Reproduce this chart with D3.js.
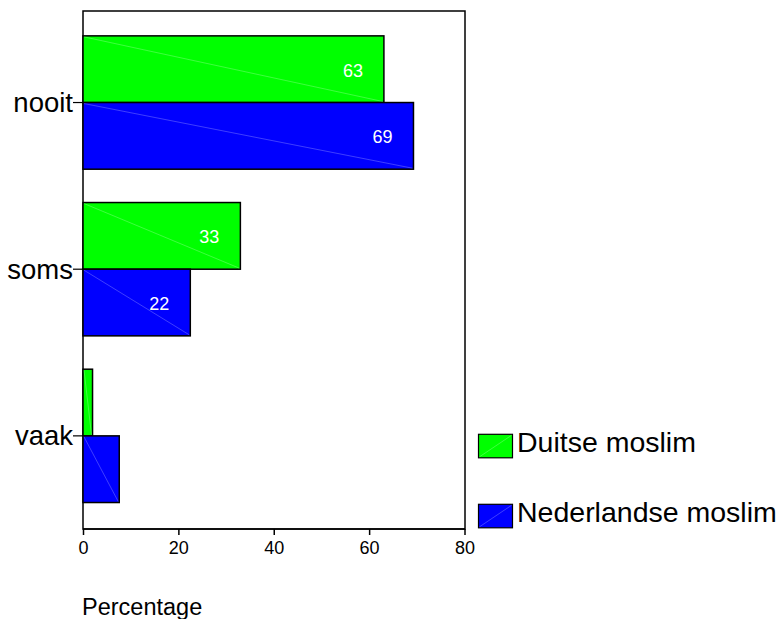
<!DOCTYPE html>
<html><head><meta charset="utf-8">
<script src="https://cdn.jsdelivr.net/npm/d3@7"></script>
<style>body{margin:0;background:#fff;} text{font-family:"Liberation Sans",Arial,sans-serif;}</style>
</head><body>
<svg id="c" width="782" height="619"></svg>
<script>
const categories = ["nooit", "soms", "vaak"];
const seriesNames = ["Duitse moslim", "Nederlandse moslim"];
const duitse = [63.1, 33.0, 2.0];
const nederlandse = [69.3, 22.5, 7.6];
const labelsDuitse = ["63", "33", ""];
const labelsNederlandse = ["69", "22", ""];
const xTicks = [0, 20, 40, 60, 80];
const colors = ["#00ff00", "#0000ff"];

(function () {
const svg = d3.select("#c");
const pLeft = 83, pRight = 465, pTop = 11, pBottom = 529;
const x = d3.scaleLinear().domain([0, 80]).range([pLeft, pRight - 0.5]);
const y = d3.scaleBand().domain(categories).range([19.2, 519.2]).paddingInner(0.2).paddingOuter(0.1);
const sub = d3.scaleBand().domain([0, 1]).range([0, y.bandwidth()]);

svg.append("rect").attr("x", pLeft).attr("y", pTop).attr("width", pRight - pLeft).attr("height", pBottom - pTop)
  .attr("fill", "none").attr("stroke", "#000").attr("stroke-width", 1.5);

const series = [duitse, nederlandse];
const labels = [labelsDuitse, labelsNederlandse];
series.forEach((vals, si) => {
  const g = svg.append("g");
  categories.forEach((c, i) => {
    const x0 = x(0), x1 = x(vals[i]);
    const y0 = y(c) + sub(si), h = sub.bandwidth();
    g.append("rect").attr("x", x0).attr("y", y0).attr("width", x1 - x0).attr("height", h)
      .attr("fill", colors[si]).attr("stroke", "#000").attr("stroke-width", 1.5);
    g.append("line").attr("x1", x0 + 1).attr("y1", y0 + 1).attr("x2", x1 - 1).attr("y2", y0 + h - 1)
      .attr("stroke", "#ffffff").attr("stroke-opacity", 0.35).attr("stroke-width", 0.7);
    if (labels[si][i]) {
      g.append("text").attr("x", x1 - 31).attr("y", y0 + h / 2 + 7.5)
        .attr("text-anchor", "middle").attr("fill", "#fff").attr("font-size", 18).text(labels[si][i]);
    }
  });
});

const xa = svg.append("g").attr("transform", `translate(0,${pBottom})`)
  .call(d3.axisBottom(x).tickValues(xTicks).tickSize(6).tickFormat(d3.format("d")));
xa.select(".domain").attr("stroke-width", 1.5).attr("d", `M${pLeft},0H${pRight}`);
xa.selectAll(".tick line").attr("stroke-width", 1.5);
xa.selectAll(".tick text").attr("font-size", 18).attr("fill", "#000").attr("dy", "0").attr("y", 25);

const ya = svg.append("g").attr("transform", `translate(${pLeft},0)`)
  .call(d3.axisLeft(y).tickSize(10).tickPadding(0));
ya.select(".domain").remove();
ya.selectAll(".tick line").attr("stroke-width", 1.2);
ya.selectAll(".tick text").attr("font-size", 27.5).attr("fill", "#000").attr("dy", "0.35em");

svg.append("text").attr("x", 82).attr("y", 615).attr("font-size", 23.5).text("Percentage");

const legY = [434.3, 504.3];
seriesNames.forEach((n, i) => {
  svg.append("rect").attr("x", 478.5).attr("y", legY[i]).attr("width", 34).attr("height", 23.5)
    .attr("fill", colors[i]).attr("stroke", "#000").attr("stroke-width", 1.2);
  svg.append("line").attr("x1", 479.5).attr("y1", legY[i] + 22.5).attr("x2", 511.5).attr("y2", legY[i] + 1)
    .attr("stroke", "#fff").attr("stroke-opacity", 0.35).attr("stroke-width", 0.7);
  svg.append("text").attr("x", 517).attr("y", legY[i] + 17.5).attr("font-size", 28.5).text(n);
});
})();
</script>
</body></html>
